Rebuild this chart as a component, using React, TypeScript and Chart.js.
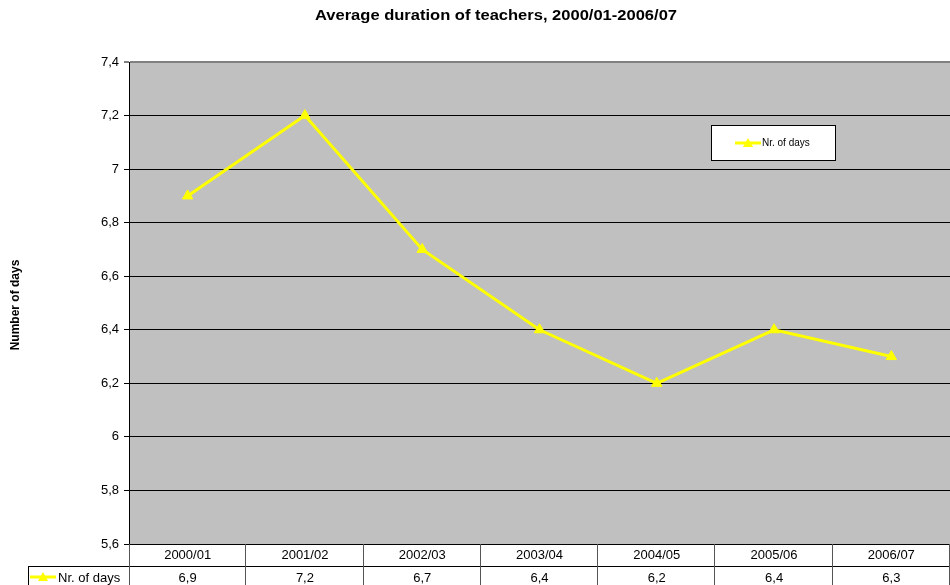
import React, { useEffect, useRef } from "react";
import { Chart, registerables } from "chart.js";

Chart.register(...registerables);

const categories = ["2000/01", "2001/02", "2002/03", "2003/04", "2004/05", "2005/06", "2006/07"];
const nrOfDays = [6.9, 7.2, 6.7, 6.4, 6.2, 6.4, 6.3];
const seriesName = "Nr. of days";
const chartTitle = "Average duration of teachers, 2000/01-2006/07";
const yAxisTitle = "Number of days";
const yMin = 5.6;
const yMax = 7.4;
const yStep = 0.2;

const FONT = "'Liberation Sans', Arial, sans-serif";
const YELLOW = "#FFFF00";

const fmt = (v: number) => String(Number(v.toFixed(1))).replace(".", ",");

function drawKey(ctx: CanvasRenderingContext2D, x1: number, x2: number, y: number) {
  ctx.save();
  ctx.strokeStyle = YELLOW;
  ctx.lineWidth = 3;
  ctx.beginPath();
  ctx.moveTo(x1, y);
  ctx.lineTo(x2, y);
  ctx.stroke();
  const cx = (x1 + x2) / 2;
  ctx.fillStyle = YELLOW;
  ctx.beginPath();
  ctx.moveTo(cx, y - 5);
  ctx.lineTo(cx + 5, y + 4);
  ctx.lineTo(cx - 5, y + 4);
  ctx.closePath();
  ctx.fill();
  ctx.restore();
}

const customPlugin = {
  id: "excelLook",
  beforeDraw(chart: any) {
    const { ctx, chartArea } = chart;
    ctx.save();
    ctx.fillStyle = "#ffffff";
    ctx.fillRect(0, 0, chart.width, chart.height);
    ctx.fillStyle = "#C0C0C0";
    ctx.fillRect(chartArea.left, chartArea.top, chartArea.right - chartArea.left, chartArea.bottom - chartArea.top);
    ctx.restore();
  },
  afterDraw(chart: any) {
    const { ctx, chartArea } = chart;
    const xs = chart.scales.x;
    ctx.save();
    // title
    ctx.fillStyle = "#000";
    ctx.font = `bold 14px ${FONT}`;
    ctx.textAlign = "center";
    ctx.textBaseline = "alphabetic";
    const tw = ctx.measureText(chartTitle).width;
    const sx = 362 / tw;
    ctx.save();
    ctx.translate(496, 20);
    ctx.scale(sx, 1);
    ctx.fillText(chartTitle, 0, 0);
    ctx.restore();
    ctx.textBaseline = "middle";
    // y axis title
    ctx.save();
    ctx.translate(16, 305);
    ctx.rotate(-Math.PI / 2);
    ctx.font = `bold 12px ${FONT}`;
    ctx.fillText(yAxisTitle, 0, 0);
    ctx.restore();

    // legend box
    const lx = 711, ly = 125, lw = 124, lh = 35;
    ctx.fillStyle = "#fff";
    ctx.fillRect(lx, ly, lw, lh);
    ctx.strokeStyle = "#000";
    ctx.lineWidth = 1;
    ctx.strokeRect(lx + 0.5, ly + 0.5, lw, lh);
    drawKey(ctx, 735, 761, 143);
    ctx.fillStyle = "#000";
    ctx.font = `10px ${FONT}`;
    ctx.textAlign = "left";
    ctx.fillText(seriesName, 762, 143);

    // data table
    const top = Math.round(chartArea.bottom);
    const mid = top + 22;
    const bot = chart.height;
    const left = chartArea.left;
    const right = chartArea.right;
    const n = categories.length;
    const colW = (right - left) / n;
    ctx.lineWidth = 1;
    ctx.strokeStyle = "#000";
    ctx.beginPath();
    ctx.moveTo(28, mid + 0.5);
    ctx.lineTo(right, mid + 0.5);
    ctx.moveTo(28.5, mid);
    ctx.lineTo(28.5, bot);
    ctx.stroke();
    ctx.strokeStyle = "#555";
    ctx.beginPath();
    for (let i = 0; i <= n; i++) {
      const x = Math.round(left + i * colW) + (i === 0 ? 0.5 : -0.5);
      ctx.moveTo(x, top);
      ctx.lineTo(x, bot);
    }
    ctx.stroke();
    ctx.fillStyle = "#000";
    ctx.font = `13px ${FONT}`;
    ctx.textAlign = "center";
    ctx.textBaseline = "middle";
    for (let i = 0; i < n; i++) {
      const cx = xs.getPixelForValue(i);
      ctx.fillText(categories[i], cx, top + 11);
      ctx.fillText(fmt(nrOfDays[i]), cx, mid + 12);
    }
    drawKey(ctx, 30, 56, mid + 11);
    ctx.textAlign = "left";
    ctx.fillText(seriesName, 58, mid + 12);
    ctx.restore();
  },
};

export default function App() {
  const ref = useRef<HTMLCanvasElement>(null);
  useEffect(() => {
    document.body.style.margin = "0";
    const canvas = ref.current!;
    const chart = new Chart(canvas, {
      type: "line",
      data: {
        labels: categories,
        datasets: [
          {
            label: seriesName,
            data: nrOfDays,
            borderColor: YELLOW,
            backgroundColor: YELLOW,
            borderWidth: 3,
            pointStyle: "triangle",
            pointRadius: 6,
            pointBorderWidth: 1,
            pointBackgroundColor: YELLOW,
            pointBorderColor: YELLOW,
            tension: 0,
            clip: false,
          },
        ],
      },
      options: {
        responsive: false,
        animation: false,
        devicePixelRatio: 1,
        layout: { autoPadding: false, padding: { top: 62, bottom: 41, left: 0, right: 0 } },
        plugins: {
          legend: { display: false },
          title: { display: false },
          tooltip: { enabled: false },
        },
        scales: {
          x: {
            type: "category",
            display: false,
            offset: true,
          },
          y: {
            min: yMin,
            max: yMax,
            afterFit: (s: any) => {
              s.width = 129;
            },
            ticks: {
              stepSize: yStep,
              color: "#000",
              font: { family: FONT, size: 13 },
              padding: 5,
              callback: (v: any) => fmt(Number(v)),
            },
            grid: {
              color: (c: any) => (Math.abs(c.tick?.value - yMax) < 1e-6 ? "#808080" : "#000"),
              lineWidth: (c: any) => (Math.abs(c.tick?.value - yMax) < 1e-6 ? 2 : 1),
              tickLength: 5,
              drawTicks: true,
            },
            border: { display: true, color: "#000", width: 1 },
          },
        },
      },
      plugins: [customPlugin],
    } as any);
    return () => chart.destroy();
  }, []);
  return (
    <div style={{ position: "fixed", left: 0, top: 0, width: 950, height: 585 }}>
      <canvas ref={ref} width={950} height={585} style={{ width: 950, height: 585 }} />
    </div>
  );
}
